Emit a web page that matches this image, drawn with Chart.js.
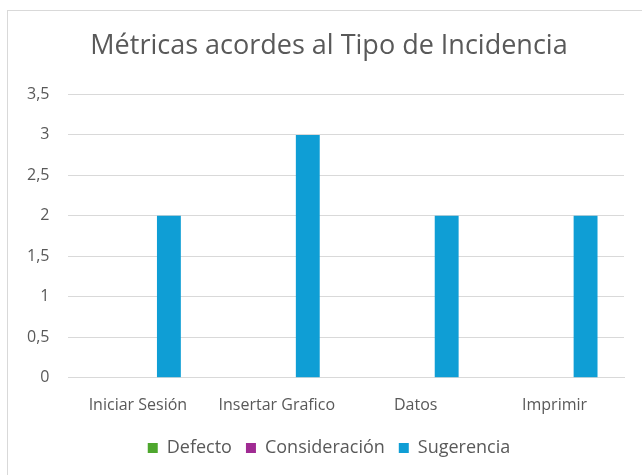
<!DOCTYPE html>
<html>
<head>
<meta charset="utf-8">
<script src="https://cdn.jsdelivr.net/npm/chart.js@4"></script>
<style>
  html, body { margin: 0; padding: 0; background: #fff; overflow: hidden; }
  #frame {
    position: absolute; left: 7px; top: 10px;
    width: 650px; height: 470px;
    border: 1px solid #d9d9d9; box-sizing: border-box;
  }
  #chart { display: block; }
</style>
</head>
<body>
<div id="frame"><canvas id="chart" width="642" height="468"></canvas></div>
<script>
const categories = ["Iniciar Sesión", "Insertar Grafico", "Datos", "Imprimir"]
const defecto = [0, 0, 0, 0]
const consideracion = [0, 0, 0, 0]
const sugerencia = [2, 3, 2, 2]
const yTicks = [0, 0.5, 1, 1.5, 2, 2.5, 3, 3.5]

const textColor = "#595959"
const gridColor = "#d9d9d9"
const fontFamily = "'Open Sans', Roboto, sans-serif"

const makeDataset = (label, data, color) => ({
  label,
  data,
  backgroundColor: color,
  borderWidth: 0,
  categoryPercentage: 0.67,
  barPercentage: 0.77,
})

new Chart(document.getElementById("chart"), {
  type: "bar",
  data: {
    labels: categories,
    datasets: [
      makeDataset("Defecto", defecto, "#4ea72e"),
      makeDataset("Consideración", consideracion, "#a02b93"),
      makeDataset("Sugerencia", sugerencia, "#0f9ed5"),
    ]
  },
  options: {
    responsive: false,
    animation: false,
    layout: { padding: { left: 0, right: 0, top: 0, bottom: 12 } },
    plugins: {
      title: {
        display: true,
        text: "Métricas acordes al Tipo de Incidencia",
        color: textColor,
        font: { family: fontFamily, size: 27, weight: "normal" },
        padding: { top: 19, bottom: 32 }
      },
      legend: {
        position: "bottom",
        labels: {
          color: textColor,
          boxWidth: 10,
          boxHeight: 10,
          padding: 14,
          font: { family: fontFamily, size: 18 }
        }
      },
      tooltip: { enabled: false }
    },
    scales: {
      x: {
        grid: { display: false, drawTicks: false },
        border: { color: gridColor },
        ticks: { color: textColor, padding: 18, maxRotation: 0, font: { family: fontFamily, size: 16 } },
        // pull the legend a little closer to the category labels
        afterFit: axis => { axis.height -= 8 }
      },
      y: {
        min: 0,
        max: 3.5,
        afterBuildTicks: axis => { axis.ticks = yTicks.map(v => ({ value: v })) },
        grid: { color: gridColor, drawTicks: false },
        border: { display: false },
        ticks: {
          color: textColor,
          padding: 19,
          font: { family: fontFamily, size: 16 },
          callback: v => String(v).replace(".", ",")
        }
      },
      // empty right-hand gutter so the plot stops short of the frame edge
      gutter: {
        position: "right",
        grid: { display: false },
        border: { display: false },
        ticks: { display: false },
        afterFit: axis => { axis.width = 26 }
      }
    }
  }
})
</script>
</body>
</html>
